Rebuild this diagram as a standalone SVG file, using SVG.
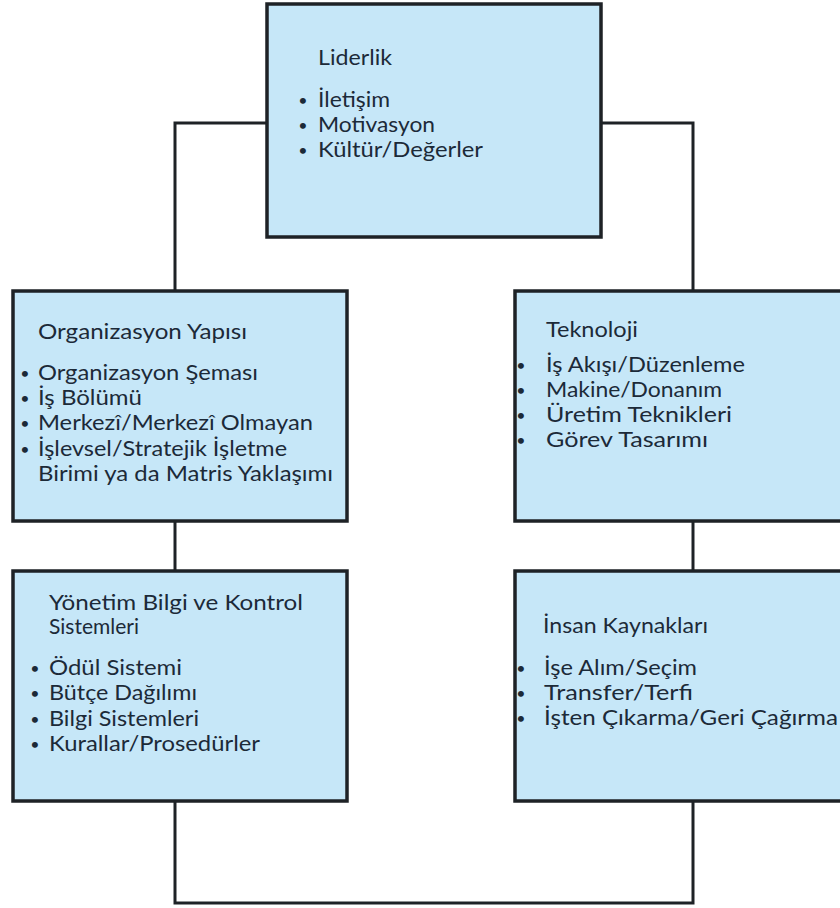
<svg xmlns="http://www.w3.org/2000/svg" width="840" height="908" viewBox="0 0 840 908">
<style>
.box{fill:#c6e7f8;stroke:#1e2226;stroke-width:3.5}
.con{fill:none;stroke:#1e2226;stroke-width:3}
text{font-family:Lato,"Open Sans","Liberation Sans",sans-serif;font-size:21px;fill:#1c2a38}
.b{text-anchor:middle;font-size:16px}
</style>
<rect width="840" height="908" fill="#ffffff"/>
<g id="connectors">
<path class="con" d="M267,123 H175 V291"/>
<path class="con" d="M601,123 H693 V291"/>
<path class="con" d="M175,521 V571"/>
<path class="con" d="M693,521 V571"/>
<path class="con" d="M175,801 V903 H693 V801"/>
</g>
<g id="liderlik">
<rect class="box" x="267" y="4" width="334" height="233"/>
<text x="318" y="65" textLength="74" lengthAdjust="spacingAndGlyphs">Liderlik</text>
<text class="b" x="303" y="106">•</text><text x="318" y="107" textLength="72" lengthAdjust="spacingAndGlyphs">İletişim</text>
<text class="b" x="303" y="131">•</text><text x="318" y="132" textLength="117" lengthAdjust="spacingAndGlyphs">Motivasyon</text>
<text class="b" x="303" y="156">•</text><text x="318" y="157" textLength="165" lengthAdjust="spacingAndGlyphs">Kültür/Değerler</text>
</g>
<g id="organizasyon">
<rect class="box" x="13" y="291" width="334" height="230"/>
<text x="38" y="339" textLength="209" lengthAdjust="spacingAndGlyphs">Organizasyon Yapısı</text>
<text class="b" x="25" y="379">•</text><text x="38" y="380" textLength="220" lengthAdjust="spacingAndGlyphs">Organizasyon Şeması</text>
<text class="b" x="25" y="404">•</text><text x="38" y="405" textLength="104" lengthAdjust="spacingAndGlyphs">İş Bölümü</text>
<text class="b" x="25" y="429">•</text><text x="38" y="430" textLength="275" lengthAdjust="spacingAndGlyphs">Merkezî/Merkezî Olmayan</text>
<text class="b" x="25" y="455">•</text><text x="38" y="456" textLength="249" lengthAdjust="spacingAndGlyphs">İşlevsel/Stratejik İşletme</text>
<text x="38" y="481" textLength="295" lengthAdjust="spacingAndGlyphs">Birimi ya da Matris Yaklaşımı</text>
</g>
<g id="teknoloji">
<rect class="box" x="515" y="291" width="340" height="230"/>
<text x="546" y="337" textLength="92" lengthAdjust="spacingAndGlyphs">Teknoloji</text>
<text class="b" x="521" y="371">•</text><text x="546" y="372" textLength="199" lengthAdjust="spacingAndGlyphs">İş Akışı/Düzenleme</text>
<text class="b" x="521" y="396">•</text><text x="546" y="397" textLength="176" lengthAdjust="spacingAndGlyphs">Makine/Donanım</text>
<text class="b" x="521" y="421">•</text><text x="546" y="422" textLength="186" lengthAdjust="spacingAndGlyphs">Üretim Teknikleri</text>
<text class="b" x="521" y="446">•</text><text x="546" y="447" textLength="162" lengthAdjust="spacingAndGlyphs">Görev Tasarımı</text>
</g>
<g id="yonetim">
<rect class="box" x="13" y="571" width="334" height="230"/>
<text x="49" y="610" textLength="254" lengthAdjust="spacingAndGlyphs">Yönetim Bilgi ve Kontrol</text>
<text x="49" y="634">Sistemleri</text>
<text class="b" x="35" y="674">•</text><text x="49" y="675" textLength="133" lengthAdjust="spacingAndGlyphs">Ödül Sistemi</text>
<text class="b" x="35" y="699">•</text><text x="49" y="700" textLength="148" lengthAdjust="spacingAndGlyphs">Bütçe Dağılımı</text>
<text class="b" x="35" y="725">•</text><text x="49" y="726" textLength="150" lengthAdjust="spacingAndGlyphs">Bilgi Sistemleri</text>
<text class="b" x="35" y="750">•</text><text x="49" y="751" textLength="211" lengthAdjust="spacingAndGlyphs">Kurallar/Prosedürler</text>
</g>
<g id="insan">
<rect class="box" x="515" y="571" width="340" height="230"/>
<text x="543" y="633" textLength="165" lengthAdjust="spacingAndGlyphs">İnsan Kaynakları</text>
<text class="b" x="521" y="674">•</text><text x="544" y="675" textLength="153" lengthAdjust="spacingAndGlyphs">İşe Alım/Seçim</text>
<text class="b" x="521" y="699">•</text><text x="544" y="700" textLength="149" lengthAdjust="spacingAndGlyphs">Transfer/Terfi</text>
<text class="b" x="521" y="724">•</text><text x="544" y="725" textLength="294" lengthAdjust="spacingAndGlyphs">İşten Çıkarma/Geri Çağırma</text>
</g>
</svg>
